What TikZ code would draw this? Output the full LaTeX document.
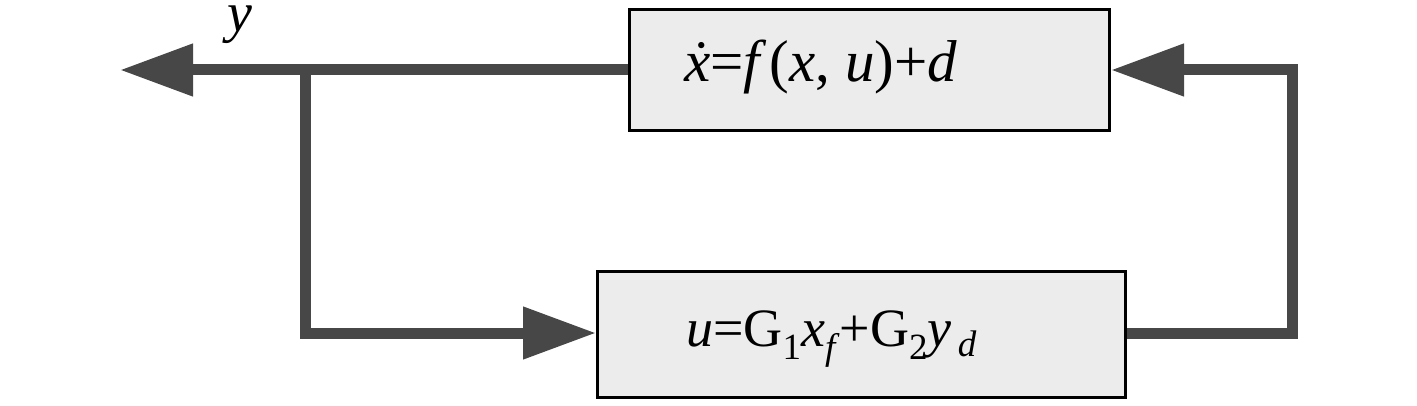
\documentclass[tikz,border=0pt]{standalone}
\usepackage{fontspec}
\setmainfont{Liberation Serif}
\usetikzlibrary{arrows.meta}
\definecolor{linegray}{HTML}{474747}
\definecolor{boxfill}{HTML}{ECECEC}
\tikzset{
  blockbox/.style={draw=black, line width=3pt, fill=boxfill, inner sep=0pt},
  sigline/.style={draw=linegray, line width=11pt},
  bigtip/.style={-{Triangle[length=73pt,width=50pt]}},
}
\begin{document}
\begin{tikzpicture}[x=1pt,y=-1pt]
\useasboundingbox (0,0) rectangle (1417,406);
% boxes
\node[blockbox, minimum width=480pt, minimum height=121pt, anchor=north west] (plant) at (628,8) {};
\node[blockbox, minimum width=528pt, minimum height=126pt, anchor=north west] (ctrl) at (596,270) {};
% texts
\node[anchor=base west, inner sep=0pt, font=\fontsize{59}{62}\selectfont] (ptext) at (684,82)
  {\textit{\.{x}}=\textit{f\,}(\textit{x}, \textit{u})+\textit{d}};
\node[anchor=base west, inner sep=0pt, font=\fontsize{54}{58}\selectfont] (ctext) at (686,346)
  {\textit{u}=G\raisebox{-0.25em}{\fontsize{37}{40}\selectfont 1}\textit{x}\raisebox{-0.25em}{\fontsize{37}{40}\selectfont\textit{f}}+G\raisebox{-0.25em}{\fontsize{37}{40}\selectfont 2}\textit{y}\raisebox{-0.2em}{\fontsize{37}{40}\selectfont\,\textit{d}}};
% coordinates
\coordinate (yout) at (120,70);
\coordinate (junc) at (305,70);
\coordinate (jdown) at (305,333);
\coordinate (rtop) at (1292,70);
\coordinate (rbot) at (1292,333);
% connectors
\draw[sigline, bigtip] (plant.west |- junc) -- (yout);
\draw[sigline, bigtip] (junc) -- (jdown) -- (ctrl.west |- jdown);
\draw[sigline, bigtip, line join=miter] (ctrl.east |- rbot) -- (rbot) -- (rtop) -- (plant.east |- rtop);
% label
\node[anchor=base, inner sep=0pt, text height=0.46em, text depth=0.22em, font=\fontsize{56}{60}\selectfont\itshape] (ylab) at (240,32) {y};
\end{tikzpicture}
\end{document}
